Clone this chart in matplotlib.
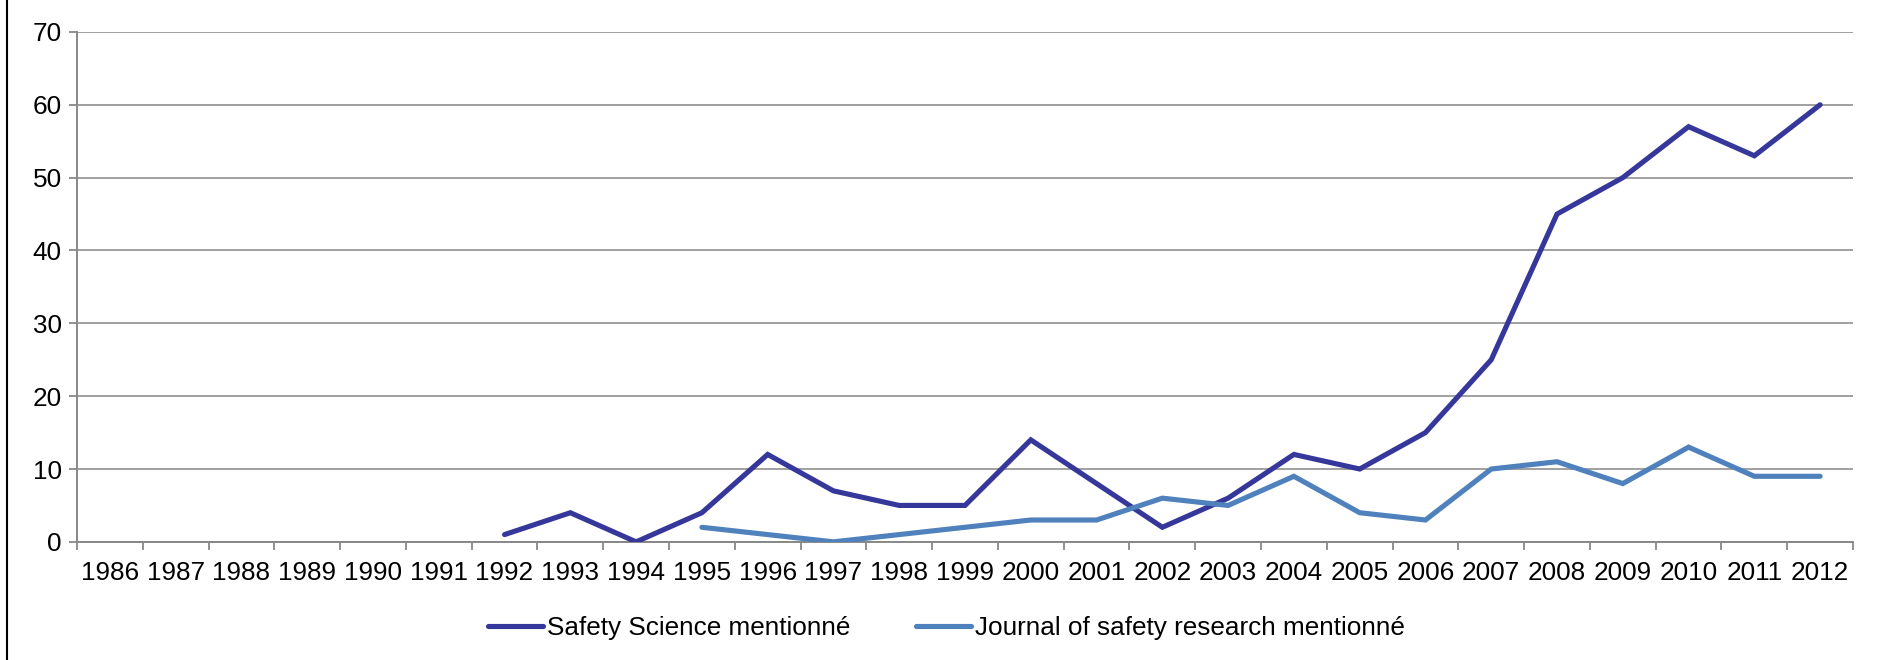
import numpy as np
import matplotlib
matplotlib.use("Agg")
import matplotlib.pyplot as plt
from matplotlib.lines import Line2D

plt.rcParams['font.family'] = ['Liberation Sans', 'DejaVu Sans']

years = [str(y) for y in range(1986, 2013)]
safety_science = [None, None, None, None, None, None,
                  1, 4, 0, 4, 12, 7, 5, 5, 14, 8, 2, 6, 12, 10, 15, 25, 45, 50, 57, 53, 60]
journal_safety = [None, None, None, None, None, None, None, None, None,
                  2, 1, 0, 1, 2, 3, 3, 6, 5, 9, 4, 3, 10, 11, 8, 13, 9, 9]

ss = np.array([np.nan if v is None else v for v in safety_science], dtype=float)
js = np.array([np.nan if v is None else v for v in journal_safety], dtype=float)
x = np.arange(len(years))

fs = 18.8

fig = plt.figure(figsize=(18.78, 6.6), dpi=100)
ax = fig.add_axes([0.041, 0.179, 0.9457, 0.7726])

ax.plot(x, ss, color='#35379a', lw=3.7, solid_capstyle='round', solid_joinstyle='miter',
        label='Safety Science mentionné', zorder=3)
ax.plot(x, js, color='#4f81bd', lw=3.7, solid_capstyle='round', solid_joinstyle='miter',
        label='Journal of safety research mentionné', zorder=3)

ax.set_xlim(-0.5, len(years) - 0.5)
ax.set_ylim(0, 70)
ax.set_yticks(range(0, 71, 10))
ax.yaxis.grid(True, color='#a0a0a0', lw=1.4)
ax.set_axisbelow(True)

ax.set_xticks(x)
ax.set_xticklabels(years)
ax.set_xticks(np.arange(-0.5, len(years), 1), minor=True)
ax.tick_params(axis='x', which='major', length=0, pad=13.5, labelsize=fs)
ax.tick_params(axis='x', which='minor', length=6, width=1.3, color='#888888', direction='out')
ax.tick_params(axis='y', length=6, width=1.3, color='#888888', pad=5, labelsize=fs)

for s in ['top', 'right']:
    ax.spines[s].set_visible(False)
for s in ['left', 'bottom']:
    ax.spines[s].set_color('#888888')
    ax.spines[s].set_linewidth(1.4)

leg = fig.legend(loc='center', bbox_to_anchor=(0.504, 0.048), ncol=2, frameon=False,
                 fontsize=fs, handlelength=2.1, handletextpad=0.15, columnspacing=2.5,
                 borderpad=0, borderaxespad=0)

# bordure gauche
fig.add_artist(Line2D([0.0035, 0.0035], [0, 1], transform=fig.transFigure, color='black', lw=1.5))

fig.savefig('out.png', dpi=100)
